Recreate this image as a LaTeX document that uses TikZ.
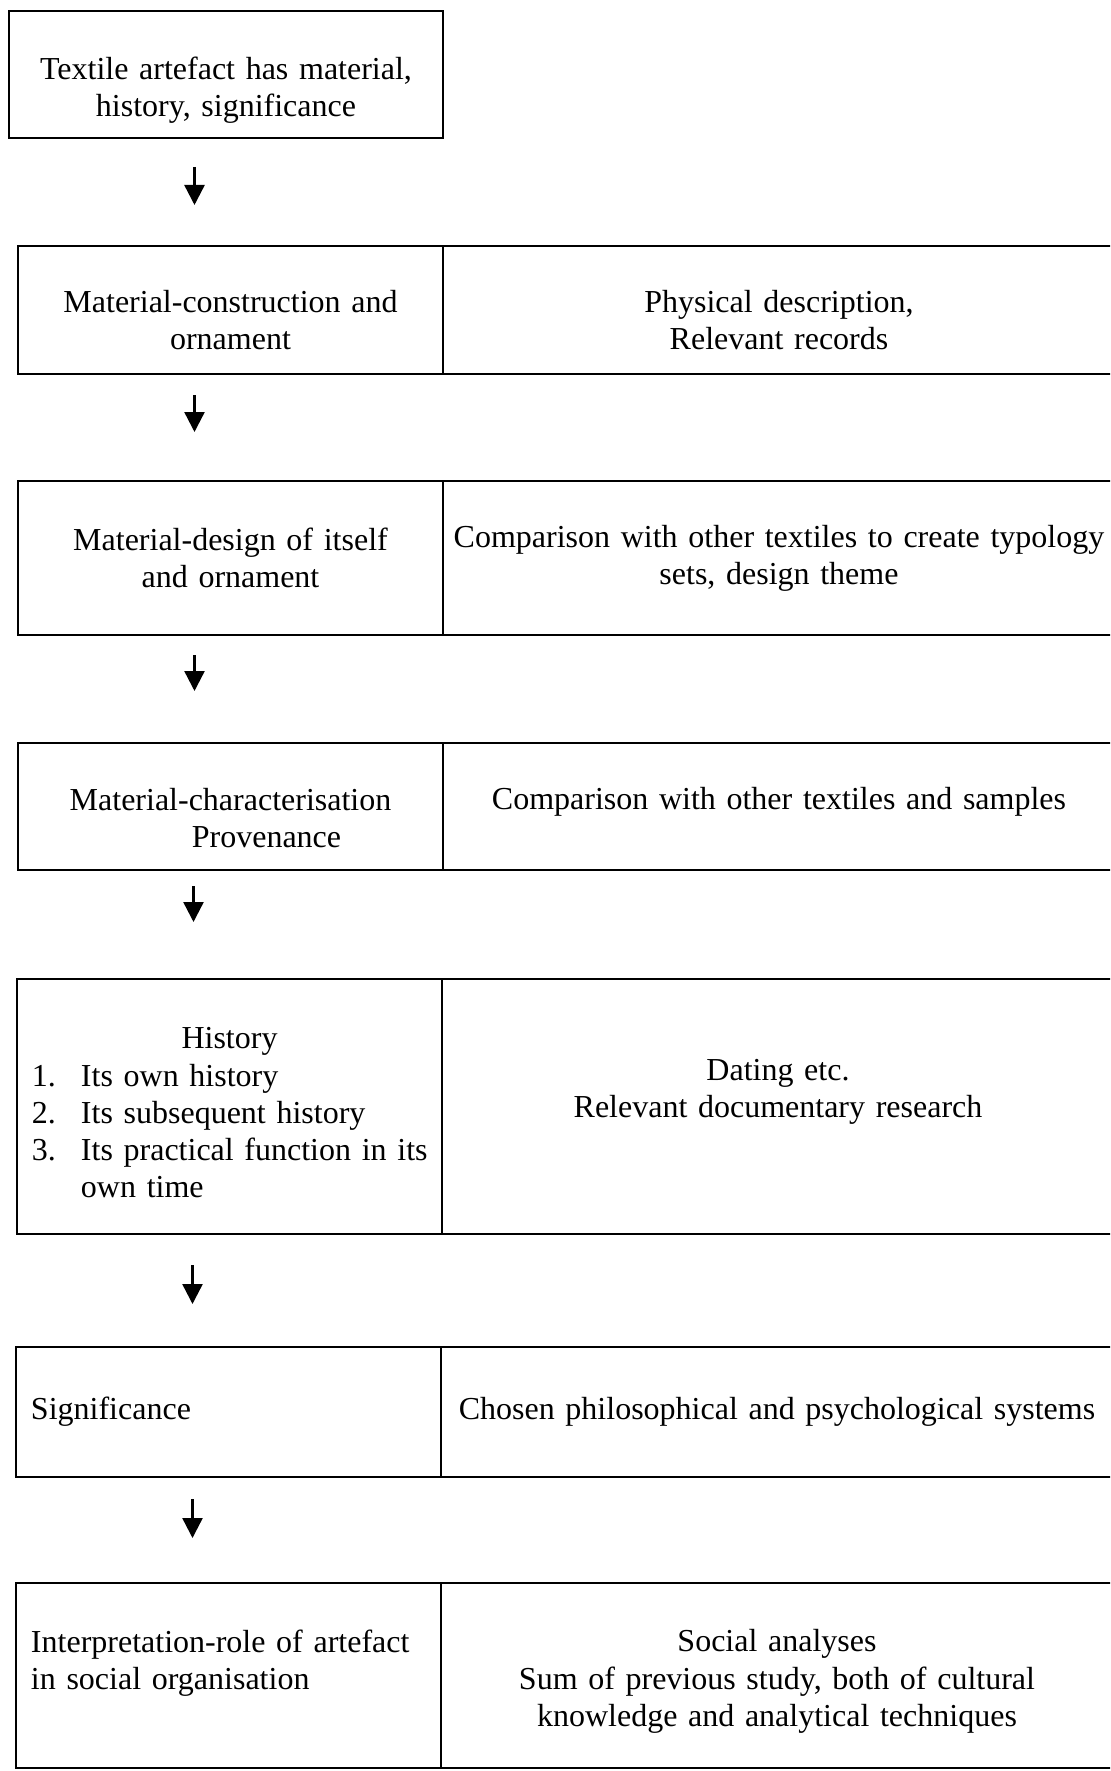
\documentclass[tikz,border=0pt]{standalone}
\usepackage{fontspec}
\setmainfont{Liberation Serif}
\usetikzlibrary{arrows.meta,positioning}

\begin{document}
\begin{tikzpicture}[x=0.5pt, y=-0.5pt,
  every node/.style={font=\fontsize{16}{18.6}\selectfont},
  stage/.style={draw, line width=0.9pt, outer sep=0pt, anchor=north west, minimum width=212.5pt, text width=197.5pt, inner xsep=7.5pt, inner ysep=1pt, align=center},
  method/.style={draw, line width=0.9pt, outer sep=0pt, minimum width=336pt, text width=326pt, inner xsep=5pt, inner ysep=1pt, align=center},
  flow/.style={line width=1.2pt, -{Triangle[width=10pt,length=10pt]}}]
\clip (0,0) rectangle (1110,1771);
% starting point
\node[stage, minimum width=217pt, minimum height=63.5pt] (art) at (9,11) {\rule{0pt}{27pt}Textile artefact has material,\\history, significance};
% stages and how they are studied
\node[stage, minimum height=64pt] (mat1) at (18,246) {\rule{0pt}{21pt}Material-construction and\\ornament};
\node[method, minimum height=64pt, right=0pt of mat1] (rec1) {\rule{0pt}{21pt}Physical description,\\Relevant records};
\node[stage, minimum height=77pt] (mat2) at (18,481) {Material-design of itself\\and ornament};
\node[method, minimum height=77pt, right=0pt of mat2] (rec2) {Comparison with other textiles to create typology\\sets, design theme};
\node[stage, minimum height=63.5pt] (mat3) at (18,743) {\rule{0pt}{23pt}Material-characterisation\\\hspace*{36pt}Provenance};
\node[method, minimum height=63.5pt, right=0pt of mat3] (rec3) {Comparison with other textiles and samples\rule[-8pt]{0pt}{8pt}};
\node[stage, minimum height=127.5pt, align=left] (hist) at (17,979) {\rule{0pt}{17pt}\makebox[197.5pt]{History}\\
  \makebox[24.5pt][l]{1.}Its own history\\
  \makebox[24.5pt][l]{2.}Its subsequent history\\
  \mbox{\makebox[24.5pt][l]{3.}Its practical function in its}\\
  \hspace*{24.5pt}own time};
\node[method, minimum height=127.5pt, right=0pt of hist] (rec4) {Dating etc.\\Relevant documentary research\rule[-18pt]{0pt}{18pt}};
\node[stage, minimum height=65pt, align=left] (sig) at (16,1347) {Significance};
\node[method, minimum height=65pt, right=0pt of sig] (rec5) {Chosen philosophical and psychological systems};
\node[stage, minimum height=92.5pt, align=left] (interp) at (16,1583) {Interpretation-role of artefact\\in social organisation\rule[-16pt]{0pt}{16pt}};
\node[method, minimum height=92.5pt, right=0pt of interp] (rec6) {\rule{0pt}{17pt}Social analyses\\Sum of previous study, both of cultural\\knowledge and analytical techniques};
% arrows down the left column
\foreach \a/\b/\s/\e in {art/mat1/14.5pt/20.5pt, mat1/mat2/10.5pt/24.5pt, mat2/mat3/10pt/26pt,
  mat3/hist/8pt/28.5pt, hist/sig/15.5pt/21.5pt, sig/interp/11pt/22.5pt}
  \draw[flow, shorten <=\s, shorten >=\e] ([xshift=-18pt]\b.north |- \a.south) -- ([xshift=-18pt]\b.north);
\end{tikzpicture}
\end{document}
